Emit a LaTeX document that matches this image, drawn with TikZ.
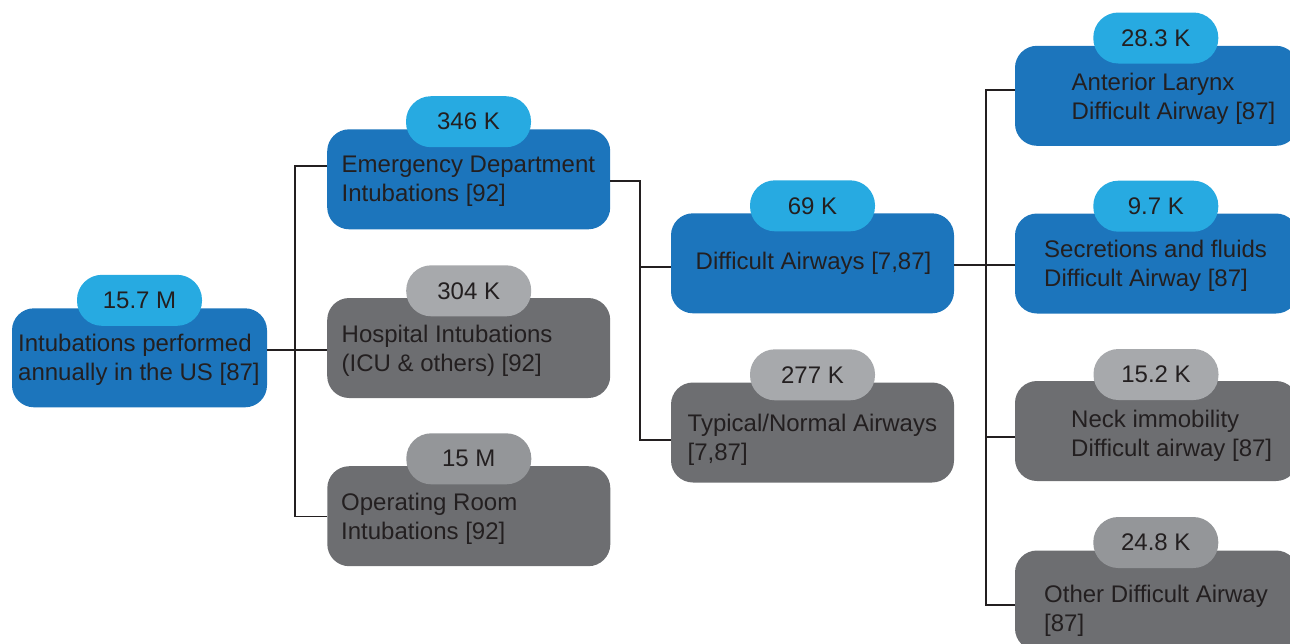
\documentclass[tikz,border=0pt]{standalone}
\usepackage{fontspec}
\setmainfont{Liberation Sans}
\usepackage{xcolor}

\definecolor{boxblue}{HTML}{1C75BC}
\definecolor{badgeblue}{HTML}{27AAE1}
\definecolor{boxgray}{HTML}{6D6E71}
\definecolor{badgegray}{HTML}{A7A9AC}
\definecolor{badgegrayd}{HTML}{949699}
\definecolor{txtcol}{HTML}{231F20}

\begin{document}
\begin{tikzpicture}[x=1pt,y=-1pt,
        box/.style={rounded corners=22pt, minimum width=283pt, minimum height=100pt, inner sep=0pt},
        bluebox/.style={box, fill=boxblue},
        graybox/.style={box, fill=boxgray},
        badge/.style={rounded corners=25pt, minimum width=125pt, minimum height=51pt, inner sep=0pt,
                text=txtcol, font=\fontsize{24}{29}\selectfont},
        bluebadge/.style={badge, fill=badgeblue},
        graybadge/.style={badge, fill=badgegray},
        txt/.style={text=txtcol, font=\fontsize{24}{29}\selectfont, align=left, inner sep=0pt, anchor=west},
        link/.style={draw=txtcol, line width=1.2pt}]
        \useasboundingbox (0,0) rectangle (1290,643);
        \clip (0,0) rectangle (1290,643);

        % boxes
        \node[bluebox, minimum width=255pt, minimum height=99pt](root) at (139.5,357.8) {};
        \node[bluebox](ed) at (468.7,179.3) {};
        \node[graybox](hosp) at (468.7,348) {};
        \node[graybox](or) at (468.8,516.2) {};
        \node[bluebox](diff) at (812.5,263.3) {};
        \node[graybox](typ) at (812.5,432.5) {};
        \node[bluebox](ant) at (1156.5,95.8) {};
        \node[bluebox](sec) at (1156.5,263.5) {};
        \node[graybox](neck) at (1156.5,431) {};
        \node[graybox](oth) at (1156.5,600.5) {};

        % texts
        \node[txt](roott) at (18,360) {Intubations performed\\annually in the US [87]};
        \node[txt](edt) at (341.5,181) {Emergency Department\\Intubations [92]};
        \node[txt](hospt) at (341.5,350.4) {Hospital Intubations\\(ICU \& others) [92]};
        \node[txt](ort) at (341,518.4) {Operating Room\\Intubations [92]};
        \node[txt](difft) at (695.5,263) {Difficult Airways [7,87]};
        \node[txt](typt) at (687.5,439.8) {Typical/Normal Airways\\[0pt][7,87]};
        \node[txt](antt) at (1071.5,98.8) {Anterior Larynx\\Difficult Airway [87]};
        \node[txt](sect) at (1044,265.7) {Secretions and fluids\\Difficult Airway [87]};
        \node[txt](neckt) at (1071,435.5) {Neck immobility\\Difficult airway [87]};
        \node[txt](otht) at (1044,610.4) {Other Difficult Airway\\[0pt][87]};

        % badges
        \node[bluebadge](rootb) at (139.5,300.3) {15.7 M};
        \node[bluebadge](edb) at (468.5,121.7) {346 K};
        \node[graybadge](hospb) at (468.7,290.8) {304 K};
        \node[graybadge, fill=badgegrayd](orb) at (468.8,458.8) {15 M};
        \node[bluebadge](diffb) at (812.5,205.8) {69 K};
        \node[graybadge](typb) at (812.5,374.8) {277 K};
        \node[bluebadge](antb) at (1155.8,38) {28.3 K};
        \node[bluebadge](secb) at (1155.8,206.2) {9.7 K};
        \node[graybadge](neckb) at (1156,374.5) {15.2 K};
        \node[graybadge, fill=badgegrayd](othb) at (1155.8,542.5) {24.8 K};

        % connectors
        \coordinate(j1) at (295,350);
        \coordinate(j2) at (640,267);
        \coordinate(j3) at (986,265);
        \draw[link](root.east|-j1)--(hosp.west|-j1);
        \draw[link]([yshift=13.3pt]ed.west)-|(j1)|-(or.west);
        \draw[link]([yshift=-1.7pt]ed.east)-|(j2)|-([yshift=-7.5pt]typ.west);
        \draw[link](j2)--(diff.west|-j2);
        \draw[link](diff.east|-j3)--(sec.west|-j3);
        \draw[link]([yshift=5.8pt]ant.west)-|(j3)|-([yshift=-4.5pt]oth.west);
        \draw[link](j3)|-([yshift=-6pt]neck.west);
\end{tikzpicture}
\end{document}
